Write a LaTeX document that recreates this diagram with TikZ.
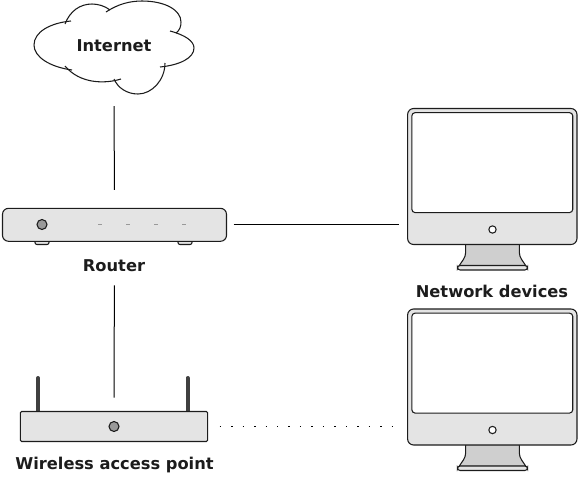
\documentclass[tikz,border=0pt]{standalone}
\usepackage{fontspec}
\setmainfont{DejaVu Sans}
\usepackage{xcolor}
\definecolor{casegray}{HTML}{E4E4E4}
\definecolor{standgray}{HTML}{CFCFCF}
\definecolor{knobgray}{HTML}{999999}
\definecolor{inkgray}{HTML}{1C1C1C}
\tikzset{
    devline/.style={draw=inkgray, line width=0.8pt},
    devlabel/.style={font=\bfseries\fontsize{12.2}{14}\selectfont, text=inkgray, inner sep=0pt},
    link/.style={draw=black, line width=0.75pt},
    casebox/.style={devline, fill=casegray, rectangle, inner sep=0pt},
    knob/.style={devline, fill=knobgray, circle, minimum size=7.5pt, inner sep=0pt},
}

\begin{document}
\begin{tikzpicture}[x=0.75pt, y=-0.75pt]
    \useasboundingbox (0,0) rectangle (583,476);

    % --- Cloud (each lobe on its own, the ends cross a little) ---
    \draw[devline] (65,24) .. controls (70,11) and (80,4) .. (92,4) .. controls (98,4) and (105,6) .. (110,10);
    \draw[devline] (106,12) .. controls (118,4) and (130,1) .. (142,1) .. controls (165,1) and (181,10) .. (181,22) .. controls (181,26) and (180,30) .. (176,33);
    \draw[devline] (170,31) .. controls (185,35) and (194,41) .. (194,48) .. controls (194,58) and (180,65) .. (160,67);
    \draw[devline] (165,63) .. controls (165,80) and (152,94) .. (138,94) .. controls (127,94) and (118,88) .. (114,79);
    \draw[devline] (121,79) .. controls (105,84) and (80,84) .. (65,66);
    \draw[devline] (72,70) .. controls (50,67) and (34,57) .. (34,45) .. controls (34,32) and (50,23) .. (71,21);
    \node[devlabel] (internet) at (114,46) {Internet};
    \coordinate (cloudfoot) at (114,94);

    % --- Router ---
    \foreach \x in {42,185} {
        \draw[devline, fill=casegray, rounded corners=1.5pt] (\x-7,238) -- (\x-7,244.5) -- (\x+7,244.5) -- (\x+7,238);
    }
    \node[casebox, rounded corners=4.5pt, minimum width=168pt, minimum height=24.75pt] (router) at (114.5,224.8) {};
    \node[knob] (routerknob) at (42,224.5) {};
    \foreach \x in {100,128,156,184} {
        \draw[knobgray, line width=1.4pt] (\x-2,224.5) -- (\x+2,224.5);
    }
    \node[devlabel] (routerlabel) at (114,266) {Router};

    % --- Wireless access point ---
    \foreach \x in {38,187.5} {
        \draw[line width=3pt, draw=black!75, line cap=round] (\x,378) -- (\x,411);
    }
    \node[casebox, rounded corners=1pt, minimum width=140.5pt, minimum height=22.5pt] (ap) at (114,426.5) {};
    \node[knob] (apknob) at (114,426.5) {};
    \node[devlabel] (aplabel) at (114.5,465.5) {Wireless access point};

    % --- Monitors ---
    \foreach \m/\dy in {monone/0,montwo/200.5} {
        % stand and foot
        \draw[devline, fill=standgray] (465.7,244+\dy) -- (465.7,252+\dy) .. controls (465.7,258+\dy) and (462,261+\dy) .. (459,266+\dy)
            -- (526,266+\dy) .. controls (523,261+\dy) and (519.3,258+\dy) .. (519.3,252+\dy) -- (519.3,244+\dy) -- cycle;
        \draw[devline, fill=casegray, rounded corners=2pt] (457.5,265.5+\dy) rectangle (527.5,270+\dy);
        % case, screen and button
        \node[casebox, rounded corners=4.5pt, minimum width=127pt, minimum height=102pt] (\m) at (492.3,176.5+\dy) {};
        \node[casebox, fill=white, rounded corners=2.5pt, minimum width=120.7pt, minimum height=75pt] (\m screen) at (492.3,162.6+\dy) {};
        \node[devline, fill=white, circle, minimum size=5.5pt, inner sep=0pt] (\m button) at (492.5,229.5+\dy) {};
    }
    \node[devlabel] (monlabel) at (492,291.5) {Network devices};

    % --- Connections ---
    \draw[link, shorten <=9pt, shorten >=13.5pt] (cloudfoot) -- (router.north);
    \draw[link, shorten <=32.6pt, shorten >=10pt] (router.south) -- (ap.north);
    \draw[link, shorten <=5pt, shorten >=6.2pt] (router.east) -- (router.east -| monone.west);
    \draw[link, line width=1.1pt, dash pattern=on 1.1pt off 7.5pt, shorten <=8.6pt, shorten >=5.5pt] (ap.east) -- (ap.east -| montwo.west);
\end{tikzpicture}
\end{document}
